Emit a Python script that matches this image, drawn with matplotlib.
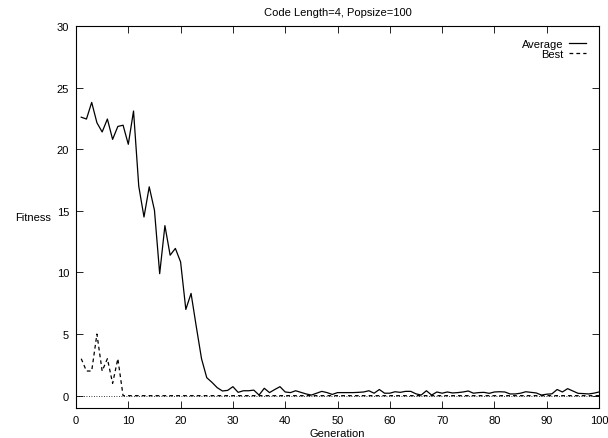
"""Average and best fitness per generation, gnuplot-like look."""
import matplotlib
matplotlib.use("Agg")
import matplotlib.pyplot as plt

plt.rcParams["font.family"] = ["Liberation Sans", "DejaVu Sans"]

generations = list(range(1, 101))
average = [
    22.6, 22.45, 23.8, 22.15, 21.4, 22.45, 20.8, 21.85, 21.95, 20.4,
    23.1, 17.0, 14.5, 16.95, 15.05, 9.9, 13.8, 11.4, 11.95, 10.85,
    7.0, 8.3, 5.6, 3.0, 1.46, 1.08, 0.65, 0.38, 0.43, 0.73,
    0.27, 0.4, 0.4, 0.45, 0.05, 0.6, 0.25, 0.5, 0.73, 0.3,
    0.25, 0.4, 0.27, 0.14, 0.05, 0.2, 0.35, 0.25, 0.1, 0.25,
    0.25, 0.25, 0.25, 0.27, 0.3, 0.4, 0.2, 0.5, 0.2, 0.2,
    0.32, 0.27, 0.35, 0.35, 0.15, 0.05, 0.4, 0.05, 0.3, 0.2,
    0.3, 0.22, 0.25, 0.3, 0.38, 0.2, 0.25, 0.27, 0.19, 0.3,
    0.32, 0.3, 0.14, 0.14, 0.2, 0.32, 0.27, 0.22, 0.05, 0.12,
    0.15, 0.5, 0.3, 0.57, 0.38, 0.19, 0.17, 0.14, 0.2, 0.3,
]
best = [3, 2, 2, 5, 2, 3, 1, 3] + [0] * 92

x_ticks = list(range(0, 101, 10))
y_ticks = list(range(0, 31, 5))

fig = plt.figure(figsize=(6.08, 4.39), dpi=100)
ax = fig.add_axes([76 / 608, 30 / 439, 523 / 608, 382 / 439])

ax.axhline(0, color="black", lw=0.6, ls=(0, (1, 2)), zorder=1)
ax.plot(generations, average, color="black", lw=0.9, label="Average", zorder=3)
ax.plot(generations, best, color="black", lw=0.9, ls=(0, (3, 2.5)), label="Best", zorder=2)

ax.set_xlim(0, 100)
ax.set_ylim(-1, 30)
ax.set_xticks(x_ticks)
ax.set_yticks(y_ticks)
ax.tick_params(direction="in", length=5, width=0.6, labelsize=8,
               top=True, right=True, pad=5)
for s in ax.spines.values():
    s.set_linewidth(0.8)

ax.set_title("Code Length=4, Popsize=100", fontsize=8, pad=8)
ax.set_xlabel("Generation", fontsize=8, labelpad=2)
ax.set_ylabel("Fitness", fontsize=8, rotation=0, labelpad=17, va="center")

ax.legend(loc="upper right", frameon=False, fontsize=8, markerfirst=False,
          handlelength=1.5, handletextpad=0.5, labelspacing=0.0,
          borderaxespad=0.8)

fig.savefig("out.png", dpi=100)
